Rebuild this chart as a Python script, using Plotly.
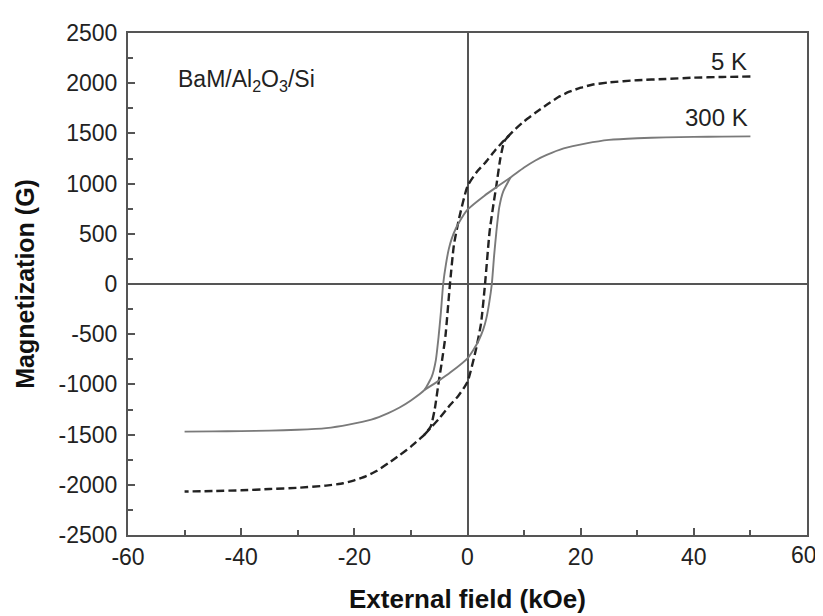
import plotly.graph_objects as go

# ---- data (H in kOe, M in G) ----
# 5 K loop: full descending branch (+50 -> -50) and the inner ascending branch (-7.6 -> +7.6)
h_5k_down = [50, 45, 40, 35, 30, 25, 22, 20, 18, 16, 14, 12, 10, 8.5, 7.6, 6.3, 5.0, 3.0, 1.7, 0,
             -1.5, -2.4, -3.1, -3.9, -4.6, -5.1, -5.8, -6.5, -7.6, -8.5, -10, -12, -14, -16,
             -18, -20, -22, -25, -30, -35, -40, -45, -50]
m_5k_down = [2067, 2062, 2055, 2042, 2030, 2008, 1985, 1955, 1915, 1860, 1785, 1705, 1620, 1545,
             1495, 1420, 1340, 1200, 1120, 975, 650, 390, 0, -520, -800, -980, -1250, -1420,
             -1500, -1545, -1620, -1705, -1785, -1860, -1915, -1955, -1985, -2008, -2030,
             -2042, -2055, -2062, -2067]
h_5k_up = [-7.6, -6.3, -5.0, -3.0, -1.7, 0, 1.5, 2.4, 3.1, 3.9, 4.6, 5.1, 5.8, 6.5, 7.6]
m_5k_up = [-1500, -1420, -1340, -1200, -1120, -975, -650, -390, 0, 520, 800, 980, 1250, 1420, 1495]

# 300 K loop
h_300k_down = [50, 45, 40, 35, 30, 25, 21, 17, 14, 12, 10, 7.6, 5, 3, 0, -1, -2, -2.8, -3.3,
               -3.8, -4.3, -4.7, -5.1, -5.6, -6.3, -7.6, -10, -12, -14, -17, -21, -25, -30,
               -35, -40, -45, -50]
m_300k_down = [1470, 1468, 1465, 1460, 1452, 1435, 1400, 1350, 1285, 1230, 1160, 1060, 960, 880,
               740, 660, 560, 450, 350, 200, 0, -280, -520, -760, -920, -1055, -1160, -1230,
               -1285, -1350, -1400, -1435, -1452, -1460, -1465, -1468, -1470]
h_300k_up = [-7.6, -5, -3, 0, 1, 2, 2.8, 3.3, 3.8, 4.3, 4.7, 5.1, 5.6, 6.3, 7.6]
m_300k_up = [-1055, -960, -880, -740, -660, -560, -450, -350, -200, 0, 280, 520, 760, 920, 1060]

x_ticks = [-60, -40, -20, 0, 20, 40, 60]
x_ticklabels = ["-60", "-40", "-20", "0", "20", "40", ""]   # "60" drawn separately (shifted)
y_ticks = [-2500, -2000, -1500, -1000, -500, 0, 500, 1000, 1500, 2000, 2500]

FONT = "Liberation Sans, Arial, sans-serif"
AX = "#555555"
TXT = "#222222"

fig = go.Figure()
dash5 = dict(color="#222222", width=2.4, dash="8px,4px", shape="spline", smoothing=0.5)
solid300 = dict(color="#7a7a7a", width=1.9, shape="spline", smoothing=0.5)
fig.add_trace(go.Scatter(x=h_5k_down, y=m_5k_down, mode="lines", line=dash5, showlegend=False))
fig.add_trace(go.Scatter(x=h_5k_up, y=m_5k_up, mode="lines", line=dash5, showlegend=False))
fig.add_trace(go.Scatter(x=h_300k_down, y=m_300k_down, mode="lines", line=solid300, showlegend=False))
fig.add_trace(go.Scatter(x=h_300k_up, y=m_300k_up, mode="lines", line=solid300, showlegend=False))

fig.update_layout(
    width=823, height=616,
    margin=dict(l=120, r=24, t=16, b=89),
    paper_bgcolor="white", plot_bgcolor="white",
    font=dict(family=FONT, size=23, color=TXT),
    xaxis=dict(range=[-60, 60], tickvals=x_ticks, ticktext=x_ticklabels,
               ticks="inside", ticklen=7, tickwidth=1.5, tickcolor=AX,
               minor=dict(dtick=10, ticks="inside", ticklen=5, tickcolor=AX, tickwidth=1.5),
               showline=True, linecolor=AX, linewidth=2, mirror=True,
               showgrid=False, zeroline=True, zerolinecolor=AX, zerolinewidth=2,
               tickfont=dict(size=23, color=TXT)),
    yaxis=dict(range=[-2500, 2500], tickvals=y_ticks, ticktext=[str(v) for v in y_ticks],
               ticks="inside", ticklen=7, tickwidth=1.5, tickcolor=AX,
               minor=dict(dtick=250, ticks="inside", ticklen=5, tickcolor=AX, tickwidth=1.5),
               showline=True, linecolor=AX, linewidth=2, mirror=True,
               showgrid=False, zeroline=True, zerolinecolor=AX, zerolinewidth=2,
               ticklabelstandoff=4,
               tickfont=dict(size=23, color=TXT)),
    annotations=[
        dict(x=1.018, y=-0.010, xref="paper", yref="paper", text="60", showarrow=False,
             xanchor="right", yanchor="top", font=dict(size=23, color=TXT, family=FONT)),
        dict(x=0.5, y=-0.127, xref="paper", yref="paper", text="<b>External field (kOe)</b>",
             showarrow=False, xanchor="center", yanchor="middle",
             font=dict(size=26, color="#111111", family=FONT)),
        dict(x=-0.152, y=0.5, xref="paper", yref="paper", text="<b>Magnetization (G)</b>",
             showarrow=False, xanchor="center", yanchor="middle", textangle=-90,
             font=dict(size=25, color="#111111", family=FONT)),
        dict(x=-51.6, y=2030, xref="x", yref="y", text="BaM/Al<sub>2</sub>O<sub>3</sub>/Si",
             showarrow=False, xanchor="left", yanchor="middle",
             font=dict(size=23, color=TXT, family=FONT)),
        dict(x=49.8, y=2216, xref="x", yref="y", text="5 K", showarrow=False,
             xanchor="right", yanchor="middle", font=dict(size=24, color=TXT, family=FONT)),
        dict(x=50, y=1658, xref="x", yref="y", text="300 K", showarrow=False,
             xanchor="right", yanchor="middle", font=dict(size=24, color=TXT, family=FONT)),
    ],
)

fig.write_html("out.html")
